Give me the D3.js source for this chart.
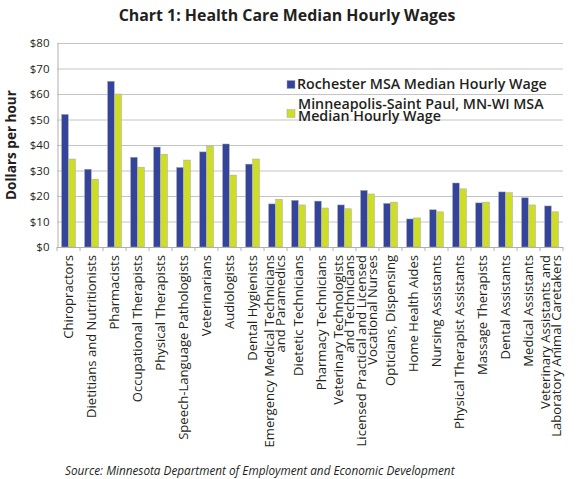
<!DOCTYPE html>
<html><head><meta charset="utf-8">
<script src="https://cdn.jsdelivr.net/npm/d3@7"></script>
<style>
body{margin:0;background:#fff;}
text{font-family:"Open Sans","Lato",sans-serif;fill:#231f20;}
</style></head>
<body><svg id="c" width="576" height="479"></svg>
<script>
const categories = [
  ["Chiropractors"],
  ["Dietitians and Nutritionists"],
  ["Pharmacists"],
  ["Occupational Therapists"],
  ["Physical Therapists"],
  ["Speech-Language Pathologists"],
  ["Veterinarians"],
  ["Audiologists"],
  ["Dental Hygienists"],
  ["Emergency Medical Technicians","and Paramedics"],
  ["Dietetic Technicians"],
  ["Pharmacy Technicians"],
  ["Veterinary Technologists","and Technicians"],
  ["Licensed Practical and Licensed","Vocational Nurses"],
  ["Opticians, Dispensing"],
  ["Home Health Aides"],
  ["Nursing Assistants"],
  ["Physical Therapist Assistants"],
  ["Massage Therapists"],
  ["Dental Assistants"],
  ["Medical Assistants"],
  ["Veterinary Assistants and","Laboratory Animal Caretakers"]
];
const rochester = [52.0,30.5,65.0,35.2,39.2,31.2,37.3,40.4,32.5,16.9,18.3,18.0,16.5,22.2,17.1,11.0,14.6,25.1,17.3,21.6,19.3,16.1];
const minneapolis = [34.5,26.6,60.0,31.3,36.4,34.1,39.6,28.2,34.5,18.7,16.5,15.3,15.0,20.8,17.6,11.4,13.8,22.8,17.6,21.3,16.5,13.8];
const seriesNames = ["Rochester MSA Median Hourly Wage", ["Minneapolis-Saint Paul, MN-WI MSA","Median Hourly Wage"]];
const colors = ["#35449b","#cedd27"];
const yTicks = [0,10,20,30,40,50,60,70,80];
const title = "Chart 1: Health Care Median Hourly Wages";
const yTitle = "Dollars per hour";
const source = "Source: Minnesota Department of Employment and Economic Development";

const svg = d3.select("#c");
const L = 57, R = 563, T = 43, B = 247;
const keys = categories.map((c,i)=>i);
const x0 = d3.scaleBand().domain(keys).range([L,R]).paddingInner(0.4).paddingOuter(0.2);
const x1 = d3.scaleBand().domain([0,1]).range([0,x0.bandwidth()]).paddingInner(0.06);
const y = d3.scaleLinear().domain([0,80]).range([B,T]);

function fit(sel, target){
  const node = sel.node();
  const fs = parseFloat(sel.style("font-size"));
  const w = node.getComputedTextLength();
  sel.style("font-size", (fs*target/w).toFixed(2)+"px");
}

// title
const tt = svg.append("text").attr("x",287).attr("y",21).attr("text-anchor","middle")
  .style("font-size","17.5px").style("font-weight","700").text(title);
fit(tt, 337);

// gridlines
svg.append("g").selectAll("line").data(yTicks.filter(d=>d>0)).join("line")
  .attr("x1",L).attr("x2",R).attr("y1",d=>y(d)+0.5).attr("y2",d=>y(d)+0.5)
  .attr("stroke","#c4c4c4").attr("stroke-width",1);

// y axis
const yAxis = d3.axisLeft(y).tickValues(yTicks).tickFormat(d=>"$"+d).tickSize(0).tickPadding(8);
const gy = svg.append("g").attr("transform",`translate(${L+0.5},0)`).call(yAxis);
gy.select(".domain").attr("stroke","#b0b0b0");
gy.selectAll("text").style("font-size","11.5px").style("font-family","'Open Sans',sans-serif").attr("fill","#231f20");

// y title
const yt = svg.append("text").attr("transform",`translate(16,145) rotate(-90)`).attr("text-anchor","middle")
  .style("font-size","14.5px").style("font-weight","700").text(yTitle);
fit(yt, 110);

// bars
const groups = svg.append("g").selectAll("g").data(keys).join("g")
  .attr("transform",d=>`translate(${x0(d)},0)`);
groups.selectAll("rect").data(i=>[rochester[i],minneapolis[i]].map((v,s)=>({v,s}))).join("rect")
  .attr("x",d=>x1(d.s)).attr("width",x1.bandwidth())
  .attr("y",d=>y(d.v)).attr("height",d=>B-y(d.v))
  .attr("fill",d=>colors[d.s]).attr("stroke","#a8a8a8").attr("stroke-width",0.5);

// x axis line and ticks between categories
svg.append("line").attr("x1",L).attr("x2",R).attr("y1",B+0.5).attr("y2",B+0.5).attr("stroke","#b0b0b0");
const step = x0.step();
svg.append("g").selectAll("line").data(d3.range(keys.length+1)).join("line")
  .attr("x1",i=>L+i*step).attr("x2",i=>L+i*step).attr("y1",B).attr("y2",B+4)
  .attr("stroke","#b0b0b0");

// x labels
const probe = svg.append("text").style("font-size","11px").text(categories[5][0]);
const labFs = 11*185/probe.node().getComputedTextLength();
probe.remove();
const lab = svg.append("g").selectAll("text").data(keys).join("text")
  .attr("transform",d=>`translate(${x0(d)+x0.bandwidth()/2-0.5},${B+8}) rotate(-90)`)
  .attr("text-anchor","end").style("font-size",labFs.toFixed(2)+"px").attr("fill","#231f20");
lab.each(function(d){
  const lines = categories[d];
  const t = d3.select(this);
  const lh = 0.85;
  lines.forEach((ln,j)=>{
    t.append("tspan").attr("x",0).attr("dy", j===0 ? ((0.35 - (lines.length-1)*lh/2)+"em") : (lh+"em")).text(ln);
  });
});

// legend
const lg = svg.append("g");
lg.append("rect").attr("x",287).attr("y",80.5).attr("width",8).attr("height",8).attr("fill",colors[0]).attr("stroke","#a8a8a8").attr("stroke-width",0.5);
lg.append("rect").attr("x",287).attr("y",109.5).attr("width",8).attr("height",8).attr("fill",colors[1]).attr("stroke","#a8a8a8").attr("stroke-width",0.5);
const t1 = lg.append("text").attr("x",297).attr("y",89).style("font-size","13.5px").style("font-weight","600").text(seriesNames[0]);
fit(t1, 250);
const fsL = t1.style("font-size");
const t2 = lg.append("text").attr("x",298).attr("y",108.5).style("font-size",fsL).style("font-weight","600");
seriesNames[1].forEach((ln,j)=>t2.append("tspan").attr("x",298).attr("dy", j===0?0:"12.5px").text(ln));

// source
const st = svg.append("text").attr("x",65).attr("y",475).style("font-size","11px").style("font-style","italic").text(source);
fit(st, 390);
</script></body></html>
